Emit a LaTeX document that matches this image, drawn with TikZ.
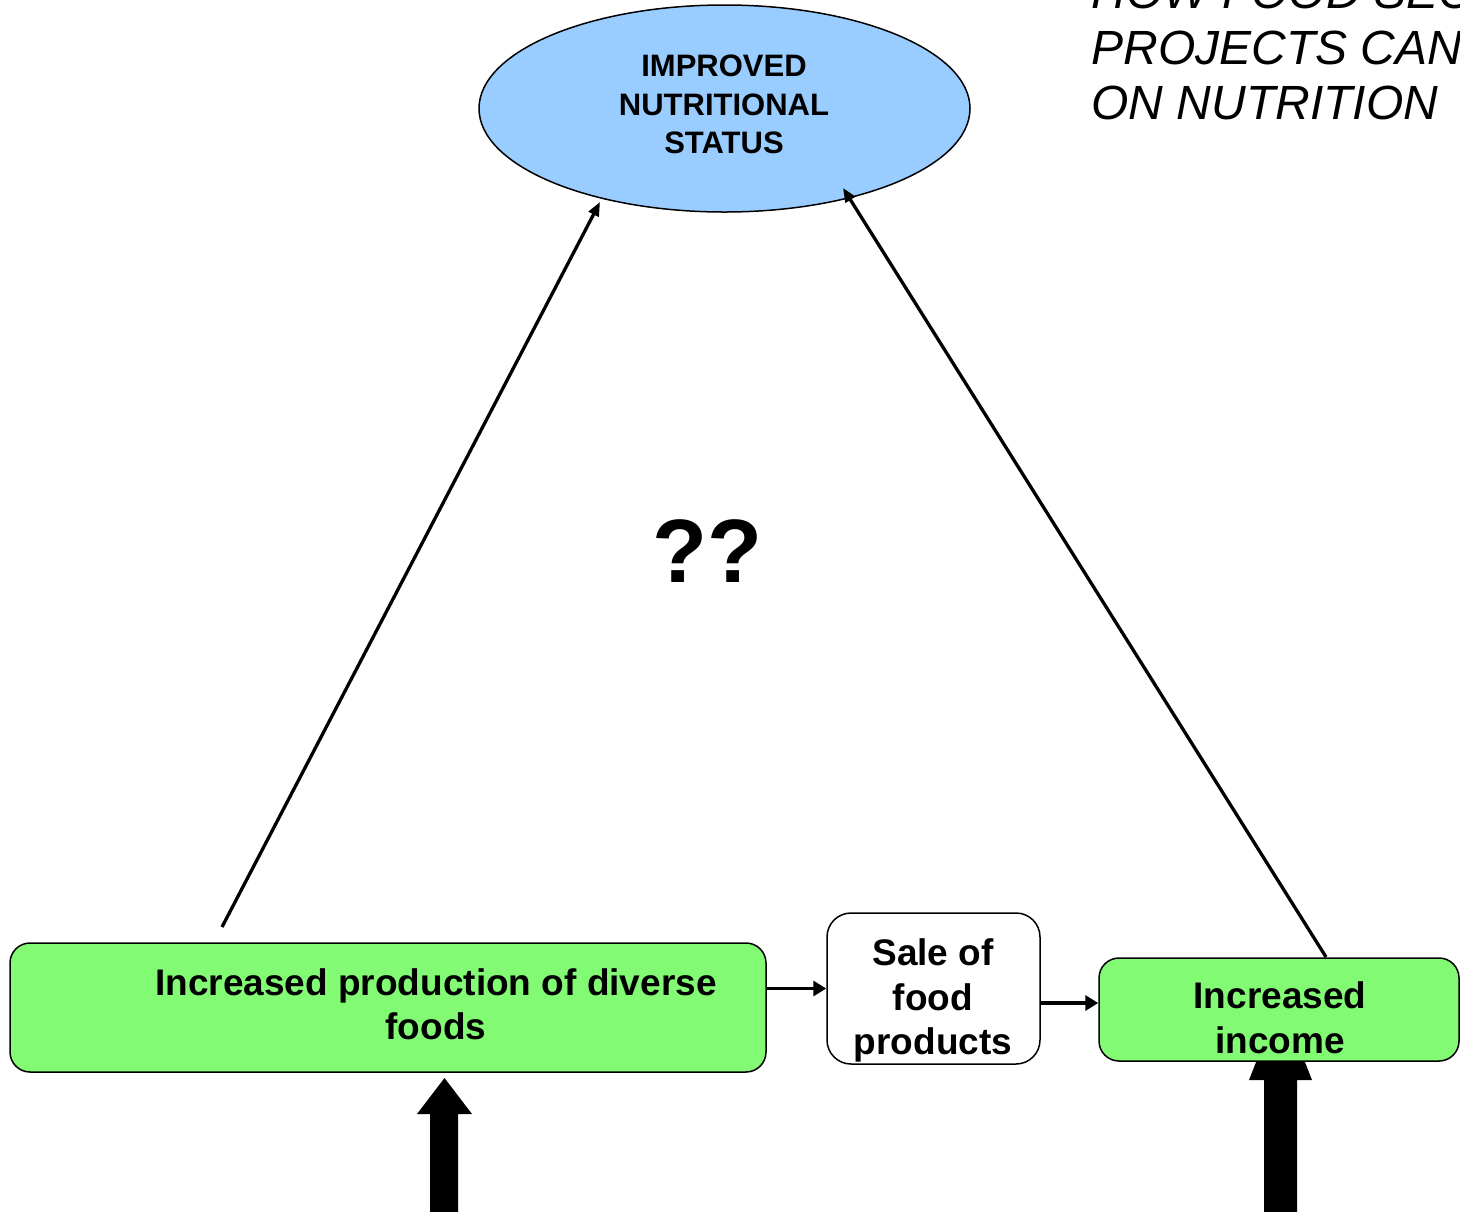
\documentclass[tikz,border=0pt]{standalone}
\usepackage{fontspec}
\setmainfont{Liberation Sans}
\usetikzlibrary{shapes.geometric,arrows.meta}
\definecolor{nblue}{RGB}{153,204,255}
\definecolor{ngreen}{RGB}{130,250,115}
\tikzset{
  boxtext/.style={font=\fontsize{18.5}{22}\selectfont\bfseries, inner sep=0pt, anchor=base},
  goaltext/.style={font=\fontsize{15.5}{19}\selectfont\bfseries, inner sep=0pt, anchor=base},
  titletext/.style={font=\fontsize{24}{27.5}\selectfont\itshape, inner sep=0pt, anchor=base west},
  greenbox/.style={draw, line width=0.75pt, fill=ngreen, rounded corners=10pt, inner sep=0pt},
  whitebox/.style={draw, line width=0.75pt, fill=white, rounded corners=12pt, inner sep=0pt},
  thinarrow/.style={line width=1.65pt, -{Triangle[length=7pt,width=5.5pt]}},
  boxarrow/.style={line width=1.8pt, -{Triangle[length=6.5pt,width=7.5pt]}},
  bigarrow/.style={fill=black}
}
\begin{document}
\begin{tikzpicture}[x=0.5pt,y=-0.5pt]
\useasboundingbox (0,0) rectangle (1460,1211);

% title
\node[titletext] (t1) at (1091,8) {HOW FOOD SEC};
\node[titletext] (t2) at (1091,64) {PROJECTS CAN};
\node[titletext] (t3) at (1091,119) {ON NUTRITION};

% goal ellipse
\node[ellipse, draw, line width=0.75pt, fill=nblue, minimum width=245.5pt, minimum height=103.5pt, inner sep=0pt] (goal) at (724.5,108.5) {};
\node[goaltext] (g1) at (724,76) {IMPROVED};
\node[goaltext] (g2) at (724,115) {NUTRITIONAL};
\node[goaltext] (g3) at (724,153) {STATUS};

% question marks
\node[font=\fontsize{45}{54}\selectfont\bfseries, inner sep=0pt, anchor=base] (qq) at (707,582) {??};

% big block arrows (drawn before boxes)
\fill[bigarrow] (430,1215) -- (430,1114) -- (417,1114) -- (444.5,1078) -- (472,1114) -- (458,1114) -- (458,1215) -- cycle;
\fill[bigarrow] (1264,1215) -- (1264,1080) -- (1249,1080) -- (1280.5,1000) -- (1312,1080) -- (1297,1080) -- (1297,1215) -- cycle;

% boxes
\node[greenbox, minimum width=378pt, minimum height=64.5pt] (prod) at (388,1007.5) {};
\node[boxtext] (p1) at (436,995) {Increased production of diverse};
\node[boxtext] (p2) at (436,1039) {foods};

\node[whitebox, minimum width=106.5pt, minimum height=75.5pt] (sale) at (933.5,988.5) {};
\node[boxtext] (s1) at (933,965) {Sale of};
\node[boxtext] (s2) at (933,1010) {food};
\node[boxtext] (s3) at (933,1054) {products};

\node[greenbox, minimum width=180pt, minimum height=51.5pt] (inc) at (1279,1009.5) {};
\node[boxtext] (i1) at (1280,1008) {Increased};
\node[boxtext] (i2) at (1280,1053) {income};

% connectors
\coordinate (lstart) at (222,927);
\coordinate (lend) at (600,202);
\coordinate (rstart) at (1326,957);
\coordinate (rend) at (843,188);
\draw[thinarrow] (lstart) -- (lend);
\draw[thinarrow] (rstart) -- (rend);

\draw[boxarrow] (prod.east |- sale.west) -- (sale.west);
\coordinate (a2) at (1040,1003);
\draw[boxarrow] (a2) -- (inc.west |- a2);
\end{tikzpicture}
\end{document}
